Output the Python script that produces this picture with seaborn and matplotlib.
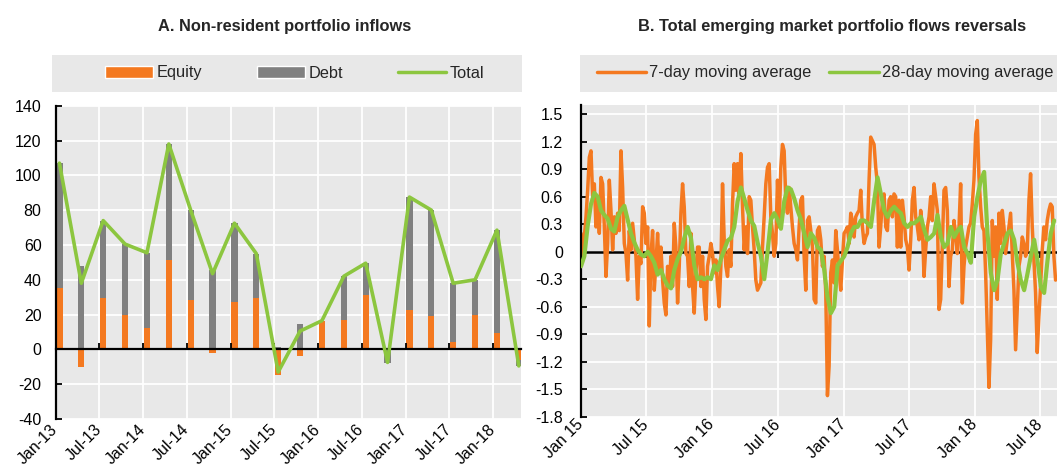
import numpy as np
import pandas as pd
import matplotlib
matplotlib.use('Agg')
import matplotlib.pyplot as plt
import matplotlib.dates as mdates
from matplotlib.patches import Rectangle, Patch
from matplotlib.lines import Line2D
import seaborn as sns

# ---- Panel A: quarterly non-resident portfolio inflows (Q1 2013 - Q2 2018)
quarters = [str(q) for q in pd.period_range('2013Q1', '2018Q2', freq='Q')]
equity = [35, -10, 29.5, 20, 12.5, 51.5, 28.5, -2, 27, 29.5, -14.5,
          -4, 16.5, 17, 31, 0.3, 22.5, 19, 4, 19.5, 9.5, -6]
debt = [72, 48, 44.5, 40.5, 43, 66.5, 51.5, 45.5, 45.5, 25.5, 1.5,
        14.5, 0, 25, 18.5, -8, 65, 61, 34, 20.5, 59, -3.5]
total = [107, 38, 74, 60.5, 55.5, 118, 80, 43.5, 72.5, 55, -13,
         10.5, 16.5, 42, 49.5, -7.5, 87.5, 80, 38, 40, 68.5, -9.5]
labels_a = ['Jan-13', 'Jul-13', 'Jan-14', 'Jul-14', 'Jan-15', 'Jul-15',
            'Jan-16', 'Jul-16', 'Jan-17', 'Jul-17', 'Jan-18']
yticks_a = [-40, -20, 0, 20, 40, 60, 80, 100, 120, 140]

# ---- Panel B: EM portfolio flows, moving averages (Jan 2015 - Aug 2018)
ma7 = [0.20, -0.05, 0.16, 0.38, 0.67, 1.03, 1.10, 0.60, 0.74, 0.27,
       0.60, 0.20, 0.81, 0.74, 0.27, -0.27, 0.09, 0.78, 0.45, 0.02,
       0.38, 0.20, 0.42, 0.23, 1.10, 0.70, 0.09, -0.02, -0.31, 0.23,
       0.02, 0.31, 0.13, -0.05, -0.52, -0.05, -0.13, 0.49, 0.42, 0.09,
       0.27, -0.81, -0.05, 0.23, -0.42, -0.13, 0.20, -0.23, 0.05, -0.31,
       -0.56, -0.69, -0.16, -0.38, -0.05, -0.38, 0.31, 0.05, -0.56, -0.16,
       0.42, 0.74, 0.49, -0.02, -0.05, -0.38, 0.20, -0.38, -0.67, -0.23,
       0.05, 0.05,
       -0.38, -0.05, -0.52, -0.74, -0.16, -0.05, 0.09, -0.02, -0.23, -0.09,
       -0.38, -0.60, -0.16, 0.74, 0.13, -0.16, -0.27, 0.02, -0.16, 0.52,
       0.96, 0.67, 0.96, 0.63, 1.07, 0.49, 0.02, 0.27, -0.02, 0.60,
       0.56, 0.27, 0.02, -0.31, -0.42, -0.38, -0.34, 0.05, 0.38, 0.74,
       0.92, 0.96, 0.38, 0.20, -0.05, 0.09, 0.78, 0.27, 0.92, 1.17,
       1.10, 0.56, 0.42, 0.70, 0.49, 0.27, 0.09, 0.02, -0.09, 0.27,
       0.56, 0.60, -0.05, -0.42, 0.34, 0.38, 0.23, 0.05, -0.52, -0.56,
       0.23, 0.27,
       0.13, -0.16, -0.05, -0.45, -1.57, -1.25, -0.23, -0.09, -0.34, 0.23,
       0.02, -0.23, -0.42, -0.09, 0.20, 0.23, 0.27, 0.09, 0.42, 0.34,
       0.16, 0.38, 0.42, 0.45, 0.67, 0.27, 0.09, 0.16, 0.20, 0.78,
       1.25, 1.21, 1.17, 0.92, 0.74, 0.05, 0.27, 0.56, 0.63, 0.27,
       0.23, 0.56, 0.60, 0.38, 0.63, 0.60, 0.05, 0.56, 0.05, 0.56,
       0.38, 0.13, 0.05, -0.20, 0.13, 0.56, 0.70, 0.38, 0.27, 0.13,
       0.45, 0.27, -0.27, 0.02, 0.27, 0.38, 0.60, 0.34, 0.74, 0.60,
       0.45, -0.63,
       -0.52, 0.09, 0.67, 0.70, 0.45, -0.38, -0.05, 0.02, 0.34, 0.20,
       -0.02, 0.27, 0.74, -0.56, -0.16, 0.05, 0.16, 0.27, 0.31, 0.52,
       0.78, 1.28, 1.43, 0.81, 0.49, 0.27, 0.23, -0.23, -0.85, -1.48,
       -0.96, 0.34, -0.05, 0.27, -0.52, 0.42, 0.09, 0.45, 0.27, -0.02,
       0.13, 0.27, 0.42, -0.02, -0.42, -1.07, -0.60, -0.16, -0.05, 0.16,
       0.09, -0.05, 0.02, 0.56, 0.85, 0.27, -0.09, -0.45, -1.10, -0.70,
       -0.38, 0.02, 0.27, 0.13, 0.34, 0.45, 0.52, 0.49, -0.05, -0.31]
ma28 = [-0.16, -0.05, 0.28, 0.52, 0.64, 0.60, 0.45, 0.40, 0.36, 0.25,
        0.22, 0.38, 0.45, 0.50, 0.35, 0.20, 0.10, 0.02, -0.03, -0.05,
        0.00, -0.05, -0.12, -0.25, -0.20, -0.30, -0.37, -0.40, -0.20, -0.08,
        0.00, 0.15, 0.27, 0.15, -0.15, -0.30,
        -0.28, -0.30, -0.28, -0.30, -0.15, -0.20, -0.08, 0.02, 0.12, 0.15,
        0.27, 0.55, 0.70, 0.58, 0.45, 0.34, 0.28, 0.10, -0.05, -0.30,
        0.00, 0.35, 0.42, 0.35, 0.25, 0.55, 0.70, 0.68, 0.58, 0.45,
        0.35, 0.20, 0.05, 0.20, 0.15, 0.05,
        0.02, -0.20, -0.50, -0.67, -0.60, -0.15, -0.10, -0.05, 0.05, 0.20,
        0.27, 0.27, 0.34, 0.34, 0.31, 0.27, 0.56, 0.81, 0.63, 0.45,
        0.38, 0.45, 0.49, 0.45, 0.42, 0.31, 0.27, 0.31, 0.31, 0.34,
        0.38, 0.24, 0.13, 0.16, 0.20, 0.40,
        0.16, 0.05, 0.09, 0.27, 0.16, 0.23, 0.27, 0.05, -0.02, -0.12,
        0.38, 0.60, 0.78, 0.87, 0.20, -0.23, -0.42, -0.31, -0.02, 0.09,
        0.20, 0.23, 0.13, -0.12, -0.31, -0.42, -0.24, -0.05, 0.13, -0.09,
        -0.38, -0.45, -0.10, 0.20, 0.34]
labels_b = ['Jan 15', 'Jul 15', 'Jan 16', 'Jul 16', 'Jan 17', 'Jul 17',
            'Jan 18', 'Jul 18']
yticks_b = [-1.8, -1.5, -1.2, -0.9, -0.6, -0.3, 0, 0.3, 0.6, 0.9, 1.2, 1.5]
ylabels_b = ['-1.8', '-1.5', '-1.2', '-0.9', '-0.6', '-0.3', '0', '0.3',
             '0.6', '0.9', '1.2', '1.5']

ORANGE = '#f47920'
GREY = '#808080'
GREEN = '#8cc63f'
BG = '#e8e8e8'

sns.set_theme(style='darkgrid', rc={'axes.facecolor': BG, 'grid.color': 'white',
                                    'grid.linewidth': 1.3})
plt.rcParams['font.family'] = ['Liberation Sans', 'DejaVu Sans']
FS = 11.5

fig = plt.figure(figsize=(10.57, 4.70), dpi=100)
W, H = 1057, 470


def px_axes(x0, y0, x1, y1):
    return fig.add_axes([x0 / W, 1 - y1 / H, (x1 - x0) / W, (y1 - y0) / H])


def style_axis(ax):
    for s in ['top', 'right', 'bottom']:
        ax.spines[s].set_visible(False)
    ax.spines['left'].set_visible(True)
    ax.spines['left'].set_color('black')
    ax.spines['left'].set_linewidth(1.6)
    ax.tick_params(axis='y', direction='in', length=4.5, width=1.3,
                   color='black', left=True, labelsize=FS, pad=10,
                   labelcolor='black')
    ax.tick_params(axis='x', length=0, labelsize=FS, labelcolor='black', pad=4)


# ---- Panel A
ax1 = px_axes(55.5, 105.7, 521, 419)
eq = np.array(equity)
de = np.array(debt)
xpos = np.arange(len(quarters)) + 0.18
debt_bottom = np.where(np.sign(eq) == np.sign(de), eq, 0)
ax1.bar(xpos, eq, width=0.29, color=ORANGE, zorder=1, linewidth=0)
ax1.bar(xpos, de, bottom=debt_bottom, width=0.29, color=GREY, zorder=1,
        linewidth=0)
sns.lineplot(x=xpos, y=total, ax=ax1, color=GREEN, linewidth=2.6,
             zorder=3, legend=False)
ax1.set_xlim(0, 21.28)
ax1.set_ylim(-40, 140)
ax1.set_yticks(yticks_a)
ax1.set_yticklabels([str(v) for v in yticks_a])
ticks_a = np.arange(0, 21, 2)
ax1.set_xticks(ticks_a)
ax1.set_xticklabels(labels_a, rotation=45, ha='right', va='center',
                    rotation_mode='anchor')
ax1.set_xlabel('')
ax1.set_ylabel('')
style_axis(ax1)
ax1.tick_params(axis='x', pad=6)

sec1 = ax1.secondary_xaxis(40 / 180)
sec1.set_xticks(ticks_a)
sec1.tick_params(direction='in', length=4.5, width=1.3, color='black',
                 labelbottom=False, labeltop=False)
for s in sec1.spines.values():
    s.set_color('black')
    s.set_linewidth(1.6)
sec1.set_zorder(2)

# ---- Panel B
ax2 = px_axes(581, 105, 1057, 416.7)
dates7 = pd.date_range('2015-01-01', '2018-08-13', periods=len(ma7))
dates28 = pd.date_range('2015-01-01', '2018-08-09', periods=len(ma28))
sns.lineplot(x=dates7, y=ma7, ax=ax2, color=ORANGE, linewidth=2.5,
             zorder=2, legend=False)
sns.lineplot(x=dates28, y=ma28, ax=ax2, color=GREEN, linewidth=3.0,
             zorder=3, legend=False)
ax2.set_xlim(pd.Timestamp('2015-01-01'), pd.Timestamp('2018-08-17'))
ax2.set_ylim(-1.8, 1.6)
ax2.set_yticks(yticks_b)
ax2.set_yticklabels(ylabels_b)
ticks_b = pd.date_range('2015-01-01', '2018-07-01', freq='6MS')
ax2.set_xticks(ticks_b)
ax2.set_xticklabels(labels_b, rotation=45, ha='right', va='center',
                    rotation_mode='anchor')
ax2.set_xlabel('')
ax2.set_ylabel('')
style_axis(ax2)
ax2.tick_params(axis='y', pad=13)

sec2 = ax2.secondary_xaxis(1.8 / 3.4)
sec2.set_xticks(mdates.date2num(ticks_b))
sec2.tick_params(direction='in', length=4.5, width=1.3, color='black',
                 labelbottom=False, labeltop=False)
for s in sec2.spines.values():
    s.set_color('black')
    s.set_linewidth(1.8)
sec2.set_zorder(1)

# ---- titles
fig.text(285 / W, 1 - 31.5 / H, 'A. Non-resident portfolio inflows',
         ha='center', va='baseline', fontsize=11.8, fontweight='bold')
fig.text(832 / W, 1 - 31.5 / H,
         'B. Total emerging market portfolio flows reversals',
         ha='center', va='baseline', fontsize=11.8, fontweight='bold')

# ---- legend boxes
fig.patches.append(Rectangle((52 / W, 1 - 92 / H), 470 / W, 37 / H,
                             transform=fig.transFigure, facecolor=BG,
                             edgecolor='none', zorder=0))
fig.patches.append(Rectangle((580 / W, 1 - 92 / H), 477 / W, 37 / H,
                             transform=fig.transFigure, facecolor=BG,
                             edgecolor='none', zorder=0))

handles_a = [Patch(facecolor=ORANGE, label='Equity'),
             Patch(facecolor=GREY, label='Debt'),
             Line2D([], [], color=GREEN, lw=2.5, label='Total')]
fig.legend(handles=handles_a, loc='center', bbox_to_anchor=(295 / W, 1 - 73 / H),
           ncol=3, frameon=False, fontsize=11.8, handlelength=2.9,
           handletextpad=0.25, columnspacing=3.35, borderaxespad=0)
handles_b = [Line2D([], [], color=ORANGE, lw=2.5, label='7-day moving average'),
             Line2D([], [], color=GREEN, lw=2.5, label='28-day moving average')]
fig.legend(handles=handles_b, loc='center', bbox_to_anchor=(825 / W, 1 - 73 / H),
           ncol=2, frameon=False, fontsize=11.8, handlelength=3.0,
           handletextpad=0.2, columnspacing=1.1, borderaxespad=0)

fig.savefig('out.png', dpi=100)
